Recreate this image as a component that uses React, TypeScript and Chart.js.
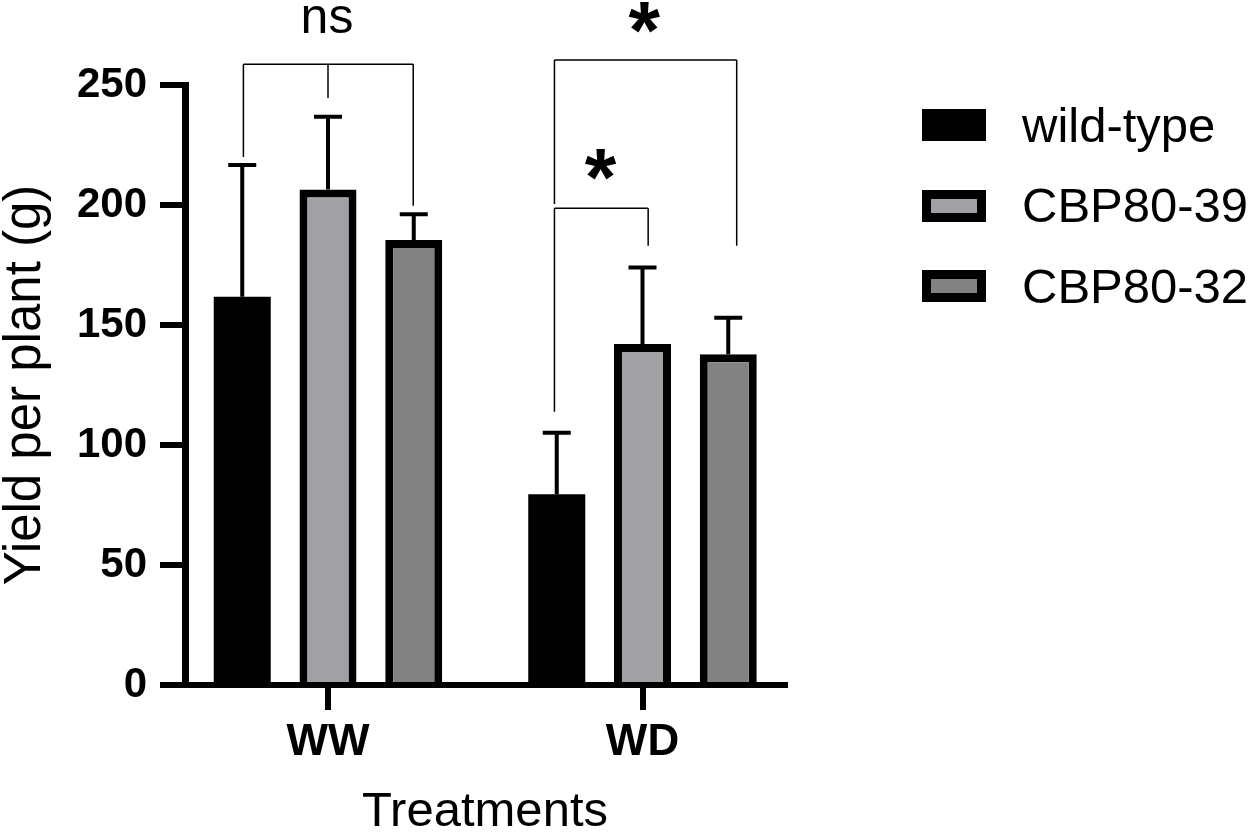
import { useEffect, useRef } from 'react'
import Chart from 'chart.js/auto'

const FONT = "'Liberation Sans', Arial, Helvetica, sans-serif"

// values (g per plant)
const treatments = ['WW', 'WD']
const genotypes = ['wild-type', 'CBP80-39', 'CBP80-32']
const wildTypeMean = [161.8, 79.5]
const cbp8039Mean = [206.5, 142.1]
const cbp8032Mean = [185.4, 137.8]
const wildTypeSd = [54.9, 25.6]
const cbp8039Sd = [30.3, 31.9]
const cbp8032Sd = [10.7, 15.2]
const yTicks = [0, 50, 100, 150, 200, 250]

const means = [wildTypeMean, cbp8039Mean, cbp8032Mean]
const sds = [wildTypeSd, cbp8039Sd, cbp8032Sd]
const fills = ['#000000', '#a1a1a5', '#828282']

// significance brackets, in axis units (x: treatment index, y: grams)
const brackets = [
  { text: 'ns', bold: false, size: 50, textX: 0, textY: 277.5, top: 258.6, legs: [[-0.269, 220], [0, 244.6], [0.271, 199.7]] },
  { text: '*', bold: true, size: 81, textX: 1.006, textY: 278.3, top: 260.4, legs: [[0.72, 200.4], [1.2995, 183]] },
  { text: '*', bold: true, size: 81, textX: 0.867, textY: 216.7, top: 198.6, legs: [[0.72, 113.9], [1.018, 183]] },
]

const errorBars = {
  id: 'errorBars',
  afterDatasetsDraw(chart: any) {
    const { ctx } = chart
    const y = chart.scales.y
    ctx.save()
    ctx.strokeStyle = '#000'
    ctx.lineWidth = 4
    chart.data.datasets.forEach((_ds: any, i: number) => {
      const meta = chart.getDatasetMeta(i)
      meta.data.forEach((bar: any, j: number) => {
        const yTop = y.getPixelForValue(means[i][j] + sds[i][j])
        ctx.beginPath()
        ctx.moveTo(bar.x, bar.y)
        ctx.lineTo(bar.x, yTop)
        ctx.moveTo(bar.x - 14, yTop)
        ctx.lineTo(bar.x + 14, yTop)
        ctx.stroke()
      })
    })
    ctx.restore()
  },
}

const sigBrackets = {
  id: 'sigBrackets',
  afterDraw(chart: any) {
    const { ctx } = chart
    const { x, y } = chart.scales
    ctx.save()
    ctx.strokeStyle = '#000'
    ctx.fillStyle = '#000'
    ctx.lineWidth = 1.5
    brackets.forEach((b) => {
      const top = y.getPixelForValue(b.top)
      const xs = b.legs.map((l) => x.getPixelForValue(l[0]))
      ctx.beginPath()
      ctx.moveTo(Math.min(...xs), top)
      ctx.lineTo(Math.max(...xs), top)
      b.legs.forEach((l, k) => {
        ctx.moveTo(xs[k], top)
        ctx.lineTo(xs[k], y.getPixelForValue(l[1]))
      })
      ctx.stroke()

      ctx.font = `${b.bold ? 'bold ' : ''}${b.size}px ${FONT}`
      ctx.textAlign = 'left'
      ctx.textBaseline = 'alphabetic'
      const m = ctx.measureText(b.text)
      const w = m.actualBoundingBoxLeft + m.actualBoundingBoxRight
      const px = x.getPixelForValue(b.textX)
      const py = y.getPixelForValue(b.textY)
      ctx.fillText(
        b.text,
        px - w / 2 + m.actualBoundingBoxLeft,
        py + (m.actualBoundingBoxAscent - m.actualBoundingBoxDescent) / 2
      )
    })
    ctx.restore()
  },
}

export default function App() {
  const canvasRef = useRef<HTMLCanvasElement>(null)

  useEffect(() => {
    if (!canvasRef.current) return
    const chart = new Chart(canvasRef.current, {
      type: 'bar',
      data: {
        datasets: genotypes.map((name, i) => ({
          label: name,
          data: treatments.map((_t, j) => ({ x: j, y: means[i][j] })),
          backgroundColor: fills[i],
          borderColor: '#000',
          // the solid black bars need no separate outline
          borderWidth: i === 0 ? 0 : 8,
          categoryPercentage: 0.818,
          barPercentage: 0.665,
        })),
      },
      options: {
        responsive: false,
        animation: false,
        layout: { padding: { left: 0, right: 463, top: 85, bottom: 0 } },
        plugins: {
          legend: { display: false },
          tooltip: { enabled: false },
        },
        scales: {
          x: {
            type: 'linear',
            min: -0.4547,
            max: 1.4531,
            offset: false,
            afterBuildTicks: (s: any) => {
              s.ticks = treatments.map((_t, i) => ({ value: i }))
            },
            afterFit: (s: any) => {
              s.height = 147
            },
            grid: {
              display: true,
              drawOnChartArea: false,
              drawTicks: true,
              tickLength: 25,
              lineWidth: 6,
              color: '#000',
              offset: false,
            },
            border: { display: true, width: 6, color: '#000', z: 1 },
            ticks: {
              callback: (v: any) => treatments[v] ?? '',
              font: { family: FONT, size: 44, weight: 'bold' },
              color: '#000',
              padding: 6,
              maxRotation: 0,
              autoSkip: false,
            },
            title: {
              display: true,
              text: 'Treatments',
              font: { family: FONT, size: 49, lineHeight: 0.78 },
              color: '#000',
              padding: 0,
            },
          },
          y: {
            type: 'linear',
            min: 0,
            max: 250,
            afterBuildTicks: (s: any) => {
              s.ticks = yTicks.map((v) => ({ value: v }))
            },
            afterFit: (s: any) => {
              s.width = 185
            },
            grid: {
              display: true,
              drawOnChartArea: false,
              drawTicks: true,
              tickLength: 25,
              lineWidth: 6,
              color: '#000',
            },
            border: { display: true, width: 7, color: '#000', z: 1 },
            ticks: {
              font: { family: FONT, size: 42, weight: 'bold' },
              color: '#000',
              padding: 13,
            },
            title: {
              display: true,
              text: 'Yield per plant (g)',
              font: { family: FONT, size: 51, lineHeight: 1 },
              color: '#000',
              padding: 0,
            },
          },
        },
      } as any,
      plugins: [errorBars, sigBrackets],
    })
    return () => chart.destroy()
  }, [])

  return (
    <div style={{ position: 'absolute', left: 0, top: 0, width: 1248, height: 832, background: '#fff' }}>
      <canvas ref={canvasRef} width={1248} height={832} style={{ width: 1248, height: 832 }} />
      <div
        style={{
          position: 'absolute',
          left: 922,
          top: 85,
          fontFamily: FONT,
          fontSize: 49,
          lineHeight: 1,
          color: '#000',
          whiteSpace: 'nowrap',
        }}
      >
        {genotypes.map((g, i) => (
          <div key={g} style={{ display: 'flex', alignItems: 'center', height: 80.5 }}>
            <span
              style={{
                flex: 'none',
                width: 64,
                height: 32,
                boxSizing: 'border-box',
                border: '9px solid #000',
                background: fills[i],
                marginRight: 36,
              }}
            />
            <span>{g}</span>
          </div>
        ))}
      </div>
    </div>
  )
}
